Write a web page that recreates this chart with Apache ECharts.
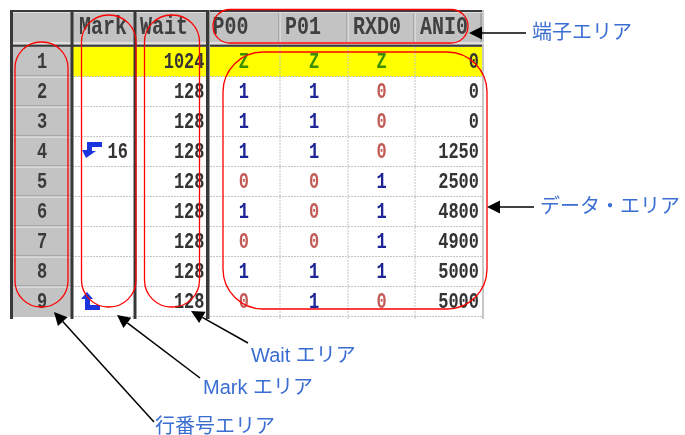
<!DOCTYPE html>
<html><head><meta charset="utf-8">
<script src="https://cdn.jsdelivr.net/npm/echarts@6/dist/echarts.min.js"></script>
<style>html,body{margin:0;padding:0;background:#fff}#c{width:685px;height:435px}</style>
</head><body><div id="c"></div>
<script>
// ---- data ----
const columns = ['Mark', 'Wait', 'P00', 'P01', 'RXD0', 'ANI0'];
const rowNumbers = ['1', '2', '3', '4', '5', '6', '7', '8', '9'];
const markValues = ['', '', '', '16', '', '', '', '', ''];
const markIcons = ['', '', '', 'loopEnd', '', '', '', '', 'loopStart'];
const waitValues = [1024, 128, 128, 128, 128, 128, 128, 128, 128];
const p00 = ['Z', '1', '1', '1', '0', '1', '0', '1', '0'];
const p01 = ['Z', '1', '1', '1', '0', '0', '0', '1', '1'];
const rxd0 = ['Z', '0', '0', '0', '1', '1', '1', '1', '0'];
const ani0 = [0, 0, 0, 1250, 2500, 4800, 4900, 5000, 5000];
const highlightRows = [0];
const annotations = ['端子エリア', 'データ・エリア', 'Wait エリア', 'Mark エリア', '行番号エリア'];

// ---- layout (axis units = px inside grid) ----
const COL_EDGES = [0, 62, 125, 197.5, 270, 338, 405, 472];
const HEADER_H = 37, ROW_H = 30, TABLE_W = 474, TABLE_H = 309;
const MONO = '"Liberation Mono", "DejaVu Sans Mono", monospace';
const BIT_COLORS = { '1': '#1c2496', '0': '#c25a55', 'Z': '#3c9000' };

const cells = [];
cells.push({ col: 0, row: -1, text: '', kind: 'corner' });
columns.forEach((c, i) => cells.push({ col: i + 1, row: -1, text: c, kind: 'header' }));
rowNumbers.forEach((n, r) => {
  cells.push({ col: 0, row: r, text: n, kind: 'rownum' });
  cells.push({ col: 1, row: r, text: markValues[r], icon: markIcons[r], kind: 'mark' });
  cells.push({ col: 2, row: r, text: String(waitValues[r]), kind: 'num' });
  [p00, p01, rxd0].forEach((arr, k) => cells.push({ col: 3 + k, row: r, text: arr[r], kind: 'bit' }));
  cells.push({ col: 6, row: r, text: String(ani0[r]), kind: 'num' });
});

function rowTop(r) { return r < 0 ? 0 : HEADER_H + ROW_H * r; }
function rowBot(r) { return r < 0 ? HEADER_H : HEADER_H + ROW_H * (r + 1); }

function txt(x, y, text, align, size, color, sy, weight) {
  return {
    type: 'text', x: x, y: y, scaleY: sy || 1.3,
    style: { text: text, x: 0, y: 0, align: align, textAlign: align, verticalAlign: 'middle', textVerticalAlign: 'middle',
      font: (weight || 'normal') + ' ' + size + 'px ' + MONO, fill: color }
  };
}

function renderCell(params, api) {
  const c = cells[params.dataIndex];
  const p0 = api.coord([COL_EDGES[c.col], rowTop(c.row)]);
  const p1 = api.coord([COL_EDGES[c.col + 1], rowBot(c.row)]);
  const x = p0[0], y = p0[1], w = p1[0] - p0[0], h = p1[1] - p0[1];
  const cy = y + h / 2;
  const ch = [];
  let fill = '#ffffff';
  if (c.row < 0 || c.col === 0) fill = '#c3c3c3';
  else if (highlightRows.indexOf(c.row) >= 0) fill = '#ffff00';
  ch.push({ type: 'rect', shape: { x: x, y: y, width: w, height: h }, style: { fill: fill } });
  if (c.kind === 'header') {
    ch.push(txt(x + (c.col === 1 ? 7 : 5), y + 17, c.text, 'left', 20, '#404040', 1.3, 'bold'));
  } else if (c.kind === 'rownum') {
    ch.push(txt(x + w / 2 + 1, cy, c.text, 'center', 17, '#3a3a3a', 1.3, 'bold'));
  } else if (c.kind === 'num') {
    ch.push(txt(x + w - 3, cy, c.text, 'right', 17, '#343434', 1.3, 'bold'));
  } else if (c.kind === 'bit') {
    ch.push(txt(x + w / 2, cy, c.text, 'center', 17, BIT_COLORS[c.text], 1.3, 'bold'));
  } else if (c.kind === 'mark') {
    const blue = '#1a34e0';
    const ix = x + 10, iy = cy;
    if (c.icon === 'loopEnd') {
      ch.push({ type: 'polygon', shape: { points: [[ix + 5, iy - 10], [ix + 20, iy - 10], [ix + 20, iy - 5], [ix + 10, iy - 5], [ix + 10, iy - 1], [ix + 14, iy - 1], [ix + 4, iy + 6], [ix, iy - 2], [ix + 5, iy - 2]] }, style: { fill: blue } });
    }
    if (c.icon === 'loopStart') {
      ch.push({ type: 'polygon', shape: { points: [[ix + 5, iy - 10], [ix + 11, iy - 3], [ix + 8, iy - 3], [ix + 8, iy + 3], [ix + 18, iy + 3], [ix + 18, iy + 8], [ix + 3, iy + 8], [ix + 3, iy - 3], [ix - 1, iy - 3]] }, style: { fill: blue } });
    }
    if (c.text) ch.push(txt(x + w - 7, cy, c.text, 'right', 17, '#343434', 1.3, 'bold'));
  }
  return { type: 'group', children: ch };
}

function renderFrame(params, api) {
  const ch = [];
  function L(xa, ya, xb, yb, color, lw, dash) {
    const a = api.coord([xa, ya]), b = api.coord([xb, yb]);
    ch.push({ type: 'line', shape: { x1: a[0], y1: a[1], x2: b[0], y2: b[1] }, style: { stroke: color, lineWidth: lw, lineDash: dash || null } });
  }
  // data grid dotted lines
  for (let r = 1; r <= 9; r++) {
    const yy = HEADER_H + ROW_H * r - 0.5;
    L(COL_EDGES[1], yy, COL_EDGES[7], yy, '#c4c4c4', 1, [2, 1]);
  }
  [4, 5, 6].forEach(i => L(COL_EDGES[i], HEADER_H, COL_EDGES[i], TABLE_H, '#c4c4c4', 1, [2, 1]));
  L(COL_EDGES[7] + 1, 0, COL_EDGES[7] + 1, TABLE_H, '#c8c8c8', 2);
  // row header separators
  for (let r = 1; r <= 8; r++) {
    const yy = HEADER_H + ROW_H * r;
    L(3, yy - 1, 60.5, yy - 1, '#8c8c8c', 1);
    L(3, yy, 60.5, yy, '#f2f2f2', 1);
  }
  // header column separators
  [4, 5, 6].forEach(i => { L(COL_EDGES[i] - 1, 2, COL_EDGES[i] - 1, 32, '#8a8a8a', 1); L(COL_EDGES[i], 2, COL_EDGES[i], 32, '#ececec', 1); });
  L(COL_EDGES[7] - 1, 2, COL_EDGES[7] - 1, 32, '#8a8a8a', 1);
  // header highlights / bottom
  L(3, 2.5, COL_EDGES[7], 2.5, '#dedede', 1);
  L(0, 33, COL_EDGES[7] + 2, 33, '#e8e8e8', 1.5);
  L(0, 35.8, COL_EDGES[7], 35.8, '#3a3a3a', 2);
  L(0, 1, COL_EDGES[7], 1, '#3a3a3a', 2);
  // dark vertical separators
  [1.5, 62, 125, 197.5].forEach(xx => L(xx, 0, xx, TABLE_H, '#383838', 3));
  L(199.5, 0, 199.5, TABLE_H, '#9a9a9a', 1);
  return { type: 'group', children: ch };
}

// ---- annotations (overlay) ----
const RED = '#ff0000', BLUE = '#3a6ed2';
function capsule(x, y, w, h, r) {
  return { type: 'rect', shape: { x: x, y: y, width: w, height: h, r: r }, style: { fill: 'none', stroke: RED, lineWidth: 1.3 }, z: 100, silent: true };
}
function arrow(tx, ty, hx, hy) {
  const dx = hx - tx, dy = hy - ty, len = Math.hypot(dx, dy), ux = dx / len, uy = dy / len;
  const hl = 13, hw = 6.5;
  const bx = hx - ux * hl, by = hy - uy * hl;
  return [
    { type: 'line', shape: { x1: tx, y1: ty, x2: bx, y2: by }, style: { stroke: '#000', lineWidth: 1.5 }, z: 100, silent: true },
    { type: 'polygon', shape: { points: [[hx, hy], [bx - uy * hw, by + ux * hw], [bx + uy * hw, by - ux * hw]] }, style: { fill: '#000' }, z: 100, silent: true }
  ];
}
function label(x, y, text) {
  return { type: 'text', x: x, y: y, z: 100, silent: true,
    style: { text: text, x: 0, y: 0, align: 'left', textAlign: 'left', verticalAlign: 'middle', textVerticalAlign: 'middle',
      font: '20px "Liberation Sans", "Noto Sans CJK JP", sans-serif', fill: BLUE } };
}
const graphics = [
  capsule(15, 42, 53, 265, 26),
  capsule(81.5, 15, 54.5, 292, 27),
  capsule(144.5, 15, 55, 292, 27),
  capsule(213, 9.5, 255, 33.5, 17),
  capsule(223, 52, 264, 257, 40),
  ...arrow(526, 33, 469, 33),
  ...arrow(534, 207, 487, 207),
  ...arrow(248, 343, 191, 311),
  ...arrow(200, 378, 117, 315),
  ...arrow(154, 422, 54, 312),
  label(532, 33, annotations[0]),
  label(540, 207, annotations[1]),
  label(251, 356, annotations[2]),
  label(203, 388, annotations[3]),
  label(155, 427, annotations[4])
];

const chart = echarts.init(document.getElementById('c'), null, { renderer: 'canvas' });
chart.setOption({
  animation: false,
  backgroundColor: '#ffffff',
  grid: { left: 10, top: 10, width: TABLE_W, height: TABLE_H, show: false },
  xAxis: { type: 'value', min: 0, max: TABLE_W, show: false },
  yAxis: { type: 'value', min: 0, max: TABLE_H, inverse: true, show: false },
  series: [
    { type: 'custom', renderItem: renderCell, data: cells.map(c => [c.col, c.row]), silent: true, clip: false, z: 1 },
    { type: 'custom', renderItem: renderFrame, data: [[0, 0]], silent: true, clip: false, z: 2 }
  ],
  graphic: graphics
});
</script>
</body></html>
